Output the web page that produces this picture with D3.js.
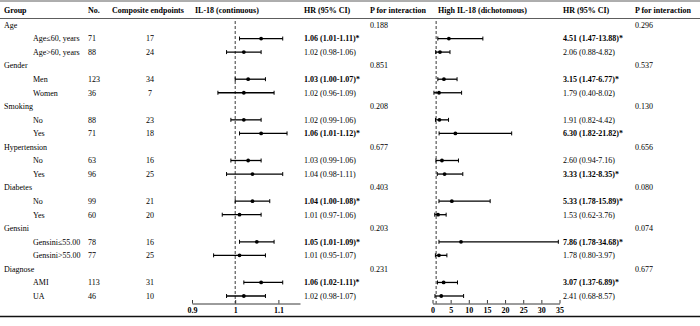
<!DOCTYPE html>
<html>
<head>
<meta charset="utf-8">
<script src="https://cdn.jsdelivr.net/npm/d3@7"></script>
<style>
  body { margin: 0; background: #fff; }
  svg { display: block; font-family: "Liberation Serif", "Times New Roman", serif; }
</style>
</head>
<body>
<div id="chart"></div>
<script>
const groups = ['Age', 'Gender', 'Smoking', 'Hypertension', 'Diabetes', 'Gensini', 'Diagnose'];
const groupP1 = ['0.188', '0.851', '0.208', '0.677', '0.403', '0.203', '0.231'];
const groupP2 = ['0.296', '0.537', '0.130', '0.656', '0.080', '0.074', '0.677'];

const subLabels = ['Age≤60, years', 'Age>60, years', 'Men', 'Women', 'No', 'Yes', 'No', 'Yes',
    'No', 'Yes', 'Gensini≤55.00', 'Gensini>55.00', 'AMI', 'UA'];
const counts = [71, 88, 123, 36, 88, 71, 63, 96, 99, 60, 78, 77, 113, 46];
const events = [17, 24, 34, 7, 23, 18, 16, 25, 21, 20, 16, 25, 31, 10];

// IL-18 continuous: HR, lower, upper, significant
const hr1 = [1.06, 1.02, 1.03, 1.02, 1.02, 1.06, 1.03, 1.04, 1.04, 1.01, 1.05, 1.01, 1.06, 1.02];
const lo1 = [1.01, 0.98, 1.00, 0.96, 0.99, 1.01, 0.99, 0.98, 1.00, 0.97, 1.01, 0.95, 1.02, 0.98];
const hi1 = [1.11, 1.06, 1.07, 1.09, 1.06, 1.12, 1.06, 1.11, 1.08, 1.06, 1.09, 1.07, 1.11, 1.07];
const sig1 = [1, 0, 1, 0, 0, 1, 0, 0, 1, 0, 1, 0, 1, 0];

// High IL-18 dichotomous
const hr2 = [4.51, 2.06, 3.15, 1.79, 1.91, 6.30, 2.60, 3.33, 5.33, 1.53, 7.86, 1.78, 3.07, 2.41];
const lo2 = [1.47, 0.88, 1.47, 0.40, 0.82, 1.82, 0.94, 1.32, 1.78, 0.62, 1.78, 0.80, 1.37, 0.68];
const hi2 = [13.88, 4.82, 6.77, 8.02, 4.42, 21.82, 7.16, 8.35, 15.89, 3.76, 34.68, 3.97, 6.89, 8.57];
const sig2 = [1, 0, 1, 0, 0, 1, 0, 1, 1, 0, 1, 0, 1, 0];

const ticks1 = [0.9, 1, 1.1];
const ticks2 = [0, 5, 10, 15, 20, 25, 30, 35];

const headers = [
    { t: 'Group', x: 4 },
    { t: 'No.', x: 88 },
    { t: 'Composite endpoints', x: 148, a: 'middle' },
    { t: 'IL-18 (continuous)', x: 195 },
    { t: 'HR (95% CI)', x: 304 },
    { t: 'P for interaction', x: 370 },
    { t: 'High IL-18 (dichotomous)', x: 438 },
    { t: 'HR (95% CI)', x: 563 },
    { t: 'P for interaction', x: 635 }
];

// --- Build rows: each group followed by its two subgroups ---
const rows = [];
groups.forEach((g, gi) => {
    rows.push({ type: 'group', label: g, p1: groupP1[gi], p2: groupP2[gi] });
    for (let k = 0; k < 2; k++) {
        const i = gi * 2 + k;
        rows.push({
            type: 'sub', label: subLabels[i], n: counts[i], ev: events[i],
            hr1: hr1[i], lo1: lo1[i], hi1: hi1[i], sig1: sig1[i],
            hr2: hr2[i], lo2: lo2[i], hi2: hi2[i], sig2: sig2[i]
        });
    }
});

const W = 700, H = 326;
const svg = d3.select('#chart').append('svg').attr('width', W).attr('height', H);

const y = d3.scaleLinear().domain([0, rows.length - 1]).range([25, 296]);
const x1 = d3.scaleLinear().domain([0.9, 1.15]).range([192, 300]);
const x2 = d3.scaleLinear().domain([0, 35]).range([432.5, 559.5]);

const fs = 8;
const axisY = 303.5;

// rules
svg.append('line').attr('x1', 0).attr('x2', W).attr('y1', 1).attr('y2', 1)
    .attr('stroke', '#333').attr('stroke-width', 0.8);
svg.append('line').attr('x1', 0).attr('x2', W).attr('y1', 18.5).attr('y2', 18.5)
    .attr('stroke', '#333').attr('stroke-width', 0.8);
svg.append('line').attr('x1', 0).attr('x2', W).attr('y1', 316.5).attr('y2', 316.5)
    .attr('stroke', '#111').attr('stroke-width', 1.6);

// headers
svg.append('g').selectAll('text').data(headers).join('text')
    .attr('x', d => d.x).attr('y', 10).attr('dy', '0.35em')
    .attr('text-anchor', d => d.a || 'start')
    .attr('font-size', fs).attr('font-weight', 'bold').attr('fill', '#000')
    .text(d => d.t);

// table text
const gRows = svg.append('g');
rows.forEach((r, i) => {
    const yy = y(i);
    const txt = (x, s, opts = {}) => gRows.append('text')
        .attr('x', x).attr('y', yy).attr('dy', '0.35em')
        .attr('font-size', fs).attr('fill', '#000')
        .attr('text-anchor', opts.a || 'start')
        .attr('font-weight', opts.b ? 'bold' : 'normal')
        .text(s);
    if (r.type === 'group') {
        txt(4, r.label);
        txt(370, r.p1);
        txt(635, r.p2);
    } else {
        txt(33, r.label);
        txt(88, r.n);
        txt(150, r.ev, { a: 'middle' });
        const f = v => v.toFixed(2);
        txt(304, `${f(r.hr1)} (${f(r.lo1)}-${f(r.hi1)})` + (r.sig1 ? '*' : ''), { b: r.sig1 });
        txt(563, `${f(r.hr2)} (${f(r.lo2)}-${f(r.hi2)})` + (r.sig2 ? '*' : ''), { b: r.sig2 });
    }
});

// reference lines
[[x1, 1], [x2, 1]].forEach(([sc, v]) => {
    svg.append('line')
        .attr('x1', sc(v)).attr('x2', sc(v)).attr('y1', 21).attr('y2', axisY)
        .attr('stroke', '#222').attr('stroke-width', 0.9).attr('stroke-dasharray', '3,2');
});

// forest marks
function drawForest(sc, hk, lk, uk) {
    const g = svg.append('g');
    const subs = rows.map((r, i) => Object.assign({ i }, r)).filter(r => r.type === 'sub');
    g.selectAll('line.ci').data(subs).join('line').attr('class', 'ci')
        .attr('x1', d => sc(d[lk])).attr('x2', d => sc(d[uk]))
        .attr('y1', d => y(d.i)).attr('y2', d => y(d.i))
        .attr('stroke', '#000').attr('stroke-width', 1.3);
    ['lk', 'uk'].forEach(key => {
        const k = key === 'lk' ? lk : uk;
        g.selectAll('line.cap' + key).data(subs).join('line').attr('class', 'cap' + key)
            .attr('x1', d => sc(d[k])).attr('x2', d => sc(d[k]))
            .attr('y1', d => y(d.i) - 2).attr('y2', d => y(d.i) + 2)
            .attr('stroke', '#000').attr('stroke-width', 1);
    });
    g.selectAll('circle').data(subs).join('circle')
        .attr('cx', d => sc(d[hk])).attr('cy', d => y(d.i)).attr('r', 1.9)
        .attr('fill', '#000');
}
drawForest(x1, 'hr1', 'lo1', 'hi1');
drawForest(x2, 'hr2', 'lo2', 'hi2');

// axes
function drawAxis(sc, tv) {
    const ax = d3.axisBottom(sc).tickValues(tv).tickFormat(d => String(d))
        .tickSizeInner(-3.5).tickSizeOuter(0).tickPadding(4);
    const g = svg.append('g').attr('transform', `translate(0,${axisY})`).call(ax);
    g.select('.domain').attr('stroke', '#222').attr('stroke-width', 0.9);
    g.selectAll('.tick line').attr('stroke', '#222').attr('stroke-width', 0.9);
    g.selectAll('.tick text').attr('font-size', fs).attr('font-weight', 'bold')
        .attr('font-family', '"Liberation Serif", serif').attr('fill', '#000');
}
drawAxis(x1, ticks1);
drawAxis(x2, ticks2);
</script>
</body>
</html>
